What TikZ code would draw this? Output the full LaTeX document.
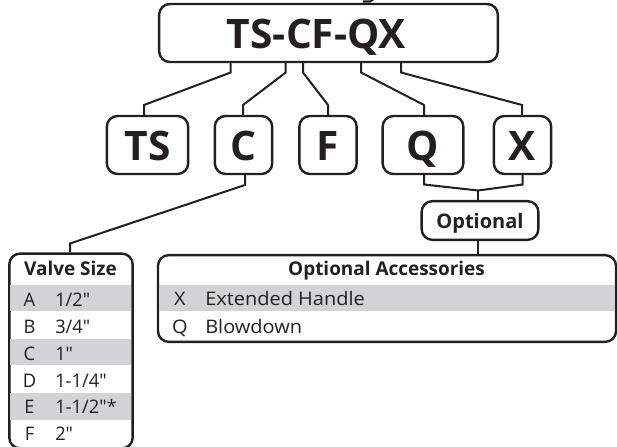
\documentclass[tikz,border=0pt]{standalone}
\usepackage{fontspec}
\setmainfont{Open Sans}
\newfontfamily\rowfont[FakeStretch=0.98]{Open Sans}
\newfontfamily\accfont[FakeStretch=1.07]{Open Sans}
\definecolor{ink}{HTML}{231F20}
\definecolor{band}{HTML}{D1D3D4}
\tikzset{x=0.75pt,y=-0.75pt,
 box/.style={draw=ink,line width=1.8pt,rounded corners=8pt,fill=white,inner sep=0pt,text=ink},
 code/.style={box,font=\bfseries\fontsize{30.5}{32}\selectfont,text height=22.7pt,text depth=0pt,minimum height=43.5pt},
 link/.style={draw=ink,line width=1.5pt,line join=miter},
 head/.style={text=ink,inner sep=0pt,anchor=base,font=\bfseries\fontsize{14.2}{16}\selectfont},
 rowtext/.style={text=ink,inner sep=0pt,anchor=base west,font=\rowfont\fontsize{14}{16}\selectfont},
 rowkey/.style={text=ink,inner sep=0pt,anchor=base,font=\rowfont\fontsize{14}{16}\selectfont},
 acctext/.style={text=ink,inner sep=0pt,anchor=base west,font=\accfont\fontsize{14}{16}\selectfont},
 acckey/.style={text=ink,inner sep=0pt,anchor=base,font=\accfont\fontsize{14}{16}\selectfont},
 bandr/.style={fill=band,draw=none}}
\begin{document}
\begin{tikzpicture}
\useasboundingbox (0,0) rectangle (617,446);
\clip (0,0) rectangle (617,446);
% nodes
\node[box,minimum width=254pt,minimum height=43.5pt,font=\bfseries\fontsize{30.5}{32}\selectfont,text height=22.7pt,text depth=0pt] (main) at (328.5,33) {TS-CF-QX\kern18pt};
\node[code,minimum width=61pt] (ts) at (147.5,145) {TS};
\node[code,minimum width=43pt] (c) at (243.5,145) {C};
\node[code,minimum width=43pt] (f) at (328,145) {F};
\node[code,minimum width=60.5pt] (q) at (423,145) {Q};
\node[code,minimum width=43pt] (x) at (522.5,145) {X};
\node[box,minimum width=87.5pt,minimum height=29pt,font=\bfseries\fontsize{15}{16}\selectfont,text height=12pt,text depth=0pt] (opt) at (480,220.5) {Optional};
% table frames
\node[box,minimum width=92.5pt,minimum height=146pt] (valve) at (71,351) {};
\node[box,minimum width=343.5pt,minimum height=65pt] (acc) at (387,298.5) {};
% bands, inside the frames
\fill[bandr] ([xshift=1.4pt]valve.west |- 0,285) rectangle ([xshift=-2.4pt]valve.east |- 0,311);
\fill[bandr] ([xshift=1.4pt]valve.west |- 0,338.5) rectangle ([xshift=-2.4pt]valve.east |- 0,365);
\fill[bandr] ([xshift=1.4pt]valve.west |- 0,392.5) rectangle ([xshift=-2.4pt]valve.east |- 0,420);
\fill[bandr] ([xshift=1.4pt]acc.west |- 0,285) rectangle ([xshift=-1.4pt]acc.east |- 0,311);
% connector ends
\coordinate (a1) at (230.7,72.5); \coordinate (b1) at (144,105);
\coordinate (a2) at (285.7,72.5); \coordinate (b2) at (243,105);
\coordinate (a3) at (303,72.5);   \coordinate (b3) at (328,105);
\coordinate (a4) at (361,72.5);   \coordinate (b4) at (424,105);
\coordinate (a5) at (401,72.5);   \coordinate (b5) at (522,105);
\coordinate (j) at (478,190.5);
\coordinate (l) at (424,184.5); \coordinate (r) at (522.5,184.5);
\coordinate (c1) at (245,185); \coordinate (c2) at (70,243.5);
% connectors
\draw[link] (main.south -| a1) -- (a1) -- (b1) -- (ts.north -| b1);
\draw[link] (main.south -| a2) -- (a2) -- (b2) -- (c.north -| b2);
\draw[link] (main.south -| a3) -- (a3) -- (b3) -- (f.north -| b3);
\draw[link] (main.south -| a4) -- (a4) -- (b4) -- (q.north -| b4);
\draw[link] (main.south -| a5) -- (a5) -- (b5) -- (x.north -| b5);
\draw[link] (c.south -| c1) -- (c1) -- (c2) -- (valve.north -| c2);
\draw[link] (q.south -| l) -- (l) -- (j);
\draw[link] (x.south -| r) -- (r) -- (j);
\draw[link] (j) -- (opt.north -| j);
\draw[link] (opt.south -| j) -- (acc.north -| j);
% clipped stroke at the top edge
\draw[ink,line width=1.5pt] (363,1.5) -- (370,1.5) -- (374,-1);
% Valve table text
\node[head] (vh) at (70.5,275) {Valve Size};
\foreach \k/\v/\y/\n in {A/1\slash 2"/306/a,B/3\slash 4"/333/b,C/1"/360/c,D/1-1\slash 4"/387/d,E/1-1\slash 2"*/413.5/e,F/2"/440/f}{
 \node[rowkey] (vk\n) at (29.5,\y) {\k};
 \node[rowtext] (vv\n) at (55,\y) {\v};
}
% Accessories table text
\node[head] (ah) at (386.5,275) {Optional Accessories};
\node[acckey] (ak1) at (180,305) {X};
\node[acctext] (av1) at (205,305) {Extended Handle};
\node[acckey] (ak2) at (180,333) {Q};
\node[acctext] (av2) at (205,333) {Blowdown};
\end{tikzpicture}
\end{document}
